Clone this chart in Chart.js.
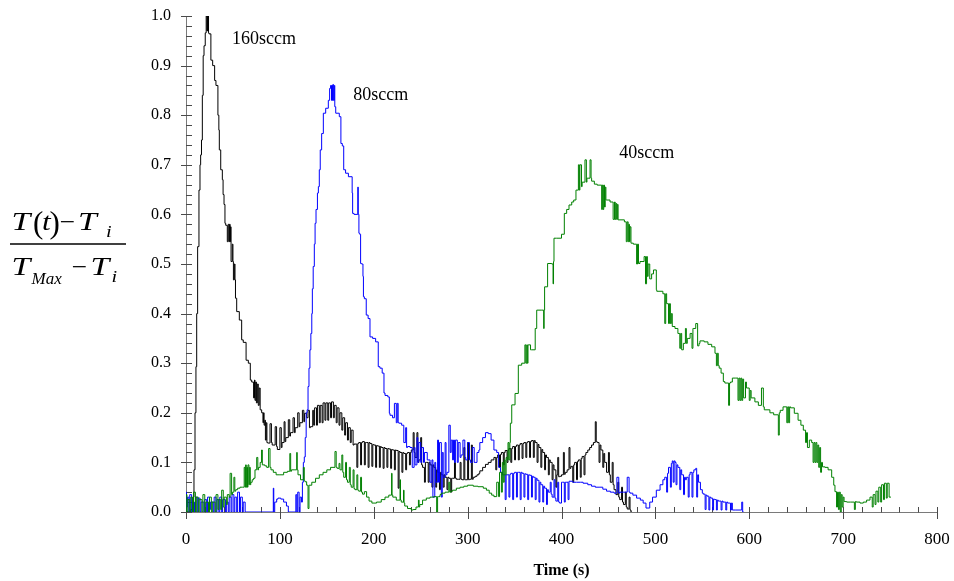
<!DOCTYPE html>
<html>
<head>
<meta charset="utf-8">
<script src="https://cdn.jsdelivr.net/npm/chart.js@4/dist/chart.umd.min.js"></script>
<style>
  html, body { margin: 0; padding: 0; background: #ffffff; }
  #plot { display: block; }
</style>
</head>
<body>
<canvas id="plot" width="954" height="581"></canvas>
<script>
// Normalised temperature rise (T(t) - Ti) / (TMax - Ti) against time, one trace per flow rate.
// Each entry is [time in s, normalised value].
const flow160 = [
  [0,0],[5,0],[7.5,0.005],[8.5,0.03],[9.6,0.085],[10.6,0.2],[11.4,0.293],[12.4,0.4],[13.8,0.535],[14.9,0.649],
  [15.6,0.7],[16.5,0.72],[17.4,0.75],[18.3,0.84],[19.2,0.92],[20.5,0.94],[21.5,0.966],[22.3,1.0],[22.8,0.97],[23.2,1.0],
  [23.6,0.97],[24,1.0],[24.5,0.966],[26.5,0.964],[28.4,0.911],[30.5,0.9],[31.9,0.87],[34,0.86],[35,0.8],[35.5,0.77],
  [37,0.73],[38.7,0.69],[39.5,0.67],[40.5,0.64],[41.5,0.62],[42.3,0.582],[44,0.578],[45,0.545],[46,0.58],[46.5,0.545],
  [47,0.58],[47.5,0.545],[48,0.575],[49.3,0.505],[50,0.54],[50.5,0.505],[51.5,0.468],[52.2,0.5],[52.7,0.468],[54,0.431],
  [56.8,0.404],[59.3,0.387],[61,0.347],[64,0.342],[66.4,0.306],[68.5,0.3],[70,0.266],[72,0.262],[73,0.23],[73.5,0.266],
  [74.3,0.225],[75,0.262],[76,0.22],[77,0.258],[78,0.215],[79,0.25],[80.6,0.206],[82,0.2],[82.5,0.18],[83.2,0.2],
  [84,0.175],[84.6,0.185],[85.5,0.145],[86.2,0.18],[87,0.14],[89.5,0.139],[91,0.178],[91.8,0.14],[95,0.135],[96.5,0.172],
  [97.3,0.132],[100,0.126],[101.5,0.17],[102.3,0.13],[104.5,0.14],[105.5,0.182],[106.3,0.142],[109,0.15],[110.5,0.186],[111.3,0.153],
  [114,0.16],[115.5,0.19],[116.3,0.16],[119,0.17],[120.5,0.2],[121.3,0.172],[124,0.18],[125.5,0.205],[126.3,0.182],[128.5,0.199],
  [130,0.19],[131.5,0.205],[132.5,0.17],[135,0.172],[136,0.205],[137,0.175],[139,0.21],[140,0.175],[142,0.215],[143,0.18],
  [145,0.215],[146,0.18],[148,0.22],[149,0.185],[151,0.22],[152,0.185],[154,0.22],[155,0.19],[157,0.222],[158,0.19],
  [160,0.215],[161,0.18],[163,0.21],[164,0.175],[166,0.2],[167,0.165],[169,0.19],[170,0.155],[172,0.18],[173,0.145],
  [175,0.17],[176,0.14],[178,0.165],[179,0.135],[182,0.137],[183,0.09],[184,0.138],[186,0.14],[187,0.095],[188,0.14],
  [190,0.142],[191,0.095],[192,0.14],[194,0.14],[195,0.09],[196,0.14],[198,0.138],[199,0.092],[200,0.136],[202,0.135],
  [203,0.09],[204,0.134],[206,0.133],[207,0.09],[208,0.132],[210,0.13],[211,0.088],[212,0.13],[214,0.128],[215,0.09],
  [216,0.128],[218,0.127],[219,0.088],[220,0.126],[222,0.125],[223,0.085],[224,0.125],[226,0.124],[227,0.048],[228,0.122],
  [230,0.12],[231,0.08],[232,0.12],[234,0.118],[235,0.085],[236,0.118],[238,0.12],[239,0.095],[240,0.12],[242,0.125],
  [243,0.16],[244,0.12],[246,0.11],[247,0.16],[248,0.1],[250,0.105],[251,0.15],[252,0.095],[254,0.09],[255,0.06],
  [256,0.1],[258,0.1],[259,0.06],[260,0.1],[262,0.095],[263,0.05],[264,0.095],[266,0.09],[267,0.05],[268,0.085],
  [270,0.08],[271,0.045],[272,0.08],[274,0.075],[275,0.05],[276,0.075],[278,0.07],[279,0.045],[280,0.07],[282,0.068],
  [283,0.04],[284,0.068],[286,0.068],[287,0.1],[288,0.068],[290,0.066],[292,0.066],[293,0.1],[294,0.066],[296,0.065],
  [297,0.13],[298,0.065],[300,0.065],[301,0.14],[302,0.065],[304,0.066],[305,0.135],[306,0.066],[308,0.07],[310,0.072],
  [312,0.075],[313,0.078],[316,0.083],[319,0.09],[322,0.096],[325,0.1],[328,0.105],[330,0.11],[331,0.085],[332,0.11],
  [334,0.115],[335,0.09],[336,0.116],[338,0.12],[339,0.095],[340,0.12],[342,0.124],[343,0.1],[344,0.125],[346,0.128],
  [347,0.1],[348,0.128],[350,0.132],[351,0.105],[352,0.132],[354,0.135],[355,0.105],[356,0.135],[358,0.138],[359,0.108],
  [360,0.138],[362,0.14],[363,0.11],[364,0.14],[366,0.142],[367,0.11],[368,0.142],[370,0.144],[371,0.11],[372,0.144],
  [374,0.14],[375,0.1],[376,0.136],[378,0.13],[379,0.09],[380,0.126],[382,0.12],[383,0.085],[384,0.115],[386,0.11],
  [387,0.075],[388,0.105],[390,0.1],[391,0.065],[392,0.095],[394,0.085],[395,0.05],[396,0.075],[397,0.11],[398,0.071],
  [400,0.072],[402,0.075],[403,0.12],[404,0.076],[406,0.08],[408,0.085],[409,0.13],[410,0.088],[412,0.092],[413,0.06],
  [414,0.095],[416,0.1],[417,0.065],[418,0.102],[420,0.105],[421,0.07],[422,0.108],[424,0.112],[425,0.075],[426,0.115],
  [428,0.12],[430,0.125],[432,0.13],[434,0.135],[436,0.14],[437,0.182],[438,0.142],[440,0.14],[441,0.1],[442,0.135],
  [444,0.125],[445,0.09],[446,0.118],[448,0.1],[450,0.08],[451,0.12],[452,0.075],[454,0.06],[455,0.1],[456,0.055],
  [458,0.045],[460,0.035],[461,0.06],[462,0.03],[464,0.025],[465,0.05],[466,0.02],[468,0.015],[469,0.04],[470,0.01],
  [472,0.006],[473,0.03],[474,0.004],[475,0]
];

const flow80 = [
  [0,0],[0.5,0.04],[1.5,0.01],[3,0.03],[4,0],[6,0.035],[7,0],[9,0.02],[10,0],[12,0.03],
  [13,0],[15,0.028],[16,0],[19,0.02],[20,0],[22,0.025],[23,0],[25,0.03],[26,0.005],[29,0.02],
  [30,0],[32,0.03],[33,0],[35,0.025],[36,0],[38,0.03],[39,0],[42,0.025],[43,0],[45,0.02],
  [46,0],[48,0.03],[49,0],[51,0.035],[52,0],[54,0.03],[55,0],[57,0.04],[58,0],[60,0.03],
  [61,0],[63,0.02],[64,0],[93,0],[93.5,0.048],[94.5,0],[96.6,0.02],[98,0.026],[101,0.028],[104,0.026],
  [107,0.02],[109,0.012],[110.8,0],[117,0],[118,0.035],[119,0],[120.5,0.04],[121.5,0],[123,0.03],[124,0.02],
  [125,0.06],[126,0.1],[127,0.111],[128,0.15],[129,0.2],[130,0.206],[131,0.253],[132,0.29],[133,0.327],[134,0.36],
  [134.6,0.4],[135.5,0.45],[136.7,0.495],[137.5,0.54],[138.5,0.582],[140,0.61],[141,0.643],[142,0.656],[143,0.69],[144.5,0.73],
  [146.3,0.763],[148.8,0.804],[151.6,0.814],[153,0.83],[154,0.854],[155,0.86],[155.5,0.83],[156,0.86],[156.5,0.83],[157,0.862],
  [158,0.83],[158.5,0.86],[159.5,0.817],[163.3,0.804],[165,0.797],[166.5,0.743],[168,0.738],[170,0.69],[173,0.683],[177,0.676],
  [177.5,0.643],[179,0.602],[183,0.6],[183.5,0.655],[184.2,0.6],[185,0.562],[186,0.56],[187,0.501],[188.5,0.5],[189,0.475],
  [190,0.434],[192,0.43],[194,0.397],[196,0.39],[198.8,0.353],[202,0.35],[204.8,0.343],[206.6,0.293],[209,0.29],[210.9,0.28],
  [212,0.24],[215,0.235],[216.6,0.232],[217.3,0.199],[220,0.195],[222,0.19],[224,0.219],[225,0.18],[226,0.219],[227,0.18],
  [229.7,0.179],[232,0.175],[234,0.14],[235,0.17],[236,0.13],[238.6,0.132],[241,0.13],[243,0.09],[244,0.13],[246,0.095],
  [247,0.15],[248,0.1],[250,0.14],[251,0.1],[253,0.13],[254,0.1],[257,0.12],[260,0.105],[262,0.06],[263,0.105],
  [265,0.03],[266,0.1],[268,0.06],[269,0.145],[270,0.06],[272,0.14],[273,0.03],[274,0.12],[276,0.07],[277,0.14],
  [278,0.075],[280,0.08],[281.5,0.175],[282.5,0.12],[284,0.145],[285,0.105],[286,0.145],[287,0.1],[289,0.145],[290,0.1],
  [292,0.14],[293,0.11],[295,0.115],[297,0.145],[298,0.11],[300,0.105],[302,0.14],[303,0.105],[305,0.1],[307,0.13],
  [308,0.1],[310,0.1],[312,0.12],[313,0.125],[316,0.14],[319,0.15],[322,0.16],[325,0.158],[328,0.145],[331,0.125],
  [333,0.12],[335,0.09],[337,0.08],[338,0.075],[340,0.075],[341,0.025],[342,0.075],[344,0.075],[345,0.03],[346,0.076],
  [348,0.078],[349,0.025],[350,0.078],[352,0.08],[353,0.03],[354,0.08],[356,0.08],[357,0.025],[358,0.08],[360,0.078],
  [361,0.03],[362,0.077],[364,0.076],[365,0.025],[366,0.075],[368,0.074],[369,0.03],[370,0.072],[372,0.07],[373,0.025],
  [374,0.068],[376,0.064],[377,0.02],[378,0.06],[380,0.055],[381,0.02],[382,0.052],[384,0.048],[385,0.015],[386,0.045],
  [388,0.04],[389,0.06],[390,0.036],[392,0.03],[393,0.065],[394,0.028],[396,0.022],[397,0.06],[398,0.02],[400,0.018],
  [401,0.06],[403,0.06],[404,0.02],[405,0.06],[407,0.06],[408,0.025],[409,0.062],[412,0.062],[416,0.06],[420,0.06],
  [423,0.06],[428,0.058],[432,0.055],[436,0.052],[440,0.05],[444,0.05],[448,0.046],[452,0.042],[456,0.04],[459,0.038],
  [461,0.07],[462,0.038],[466,0.04],[470,0.04],[472,0.07],[473,0.04],[476,0.038],[480,0.034],[484,0.028],[487,0.024],
  [490,0.018],[494,0.008],[497,0.02],[501,0.03],[505,0.044],[508,0.055],[510,0.065],[512,0.07],[513,0.04],[514,0.078],
  [516,0.09],[517,0.05],[518,0.098],[519,0.103],[520,0.06],[521,0.103],[522,0.1],[523,0.055],[524,0.095],[526,0.09],
  [527,0.045],[528,0.085],[530,0.075],[531,0.035],[532,0.07],[533,0.065],[535,0.07],[536,0.03],[537,0.075],[539,0.08],
  [540,0.03],[541,0.08],[543,0.085],[544,0.088],[545,0.03],[546,0.075],[548,0.06],[550,0.045],[551,0.038],[553,0.036],
  [554,0.005],[555,0.034],[557,0.032],[558,0.004],[559,0.03],[561,0.028],[562,0.004],[563,0.026],[565,0.025],[566,0.004],
  [567,0.024],[570,0.022],[571,0.004],[572,0.022],[575,0.02],[576,0.004],[577,0.02],[580,0.018],[581,0.004],[582,0.018],
  [585,0.004],[592,0.004],[593,0.02],[594,0]
];

const flow40 = [
  [0,0],[1,0.035],[2,0],[4,0.025],[5,0],[7,0.03],[8,0],[10,0.04],[11,0],[13,0.03],
  [14,0],[17,0.025],[18,0],[20,0.035],[21,0],[24,0.02],[25,0],[27,0.03],[28,0],[31,0.02],
  [32,0],[34,0.035],[35,0.005],[37,0.025],[38,0.005],[39.7,0.044],[40.7,0.01],[43,0.03],[44,0.015],[46,0.035],
  [47,0.03],[48.6,0.078],[49.5,0.035],[51,0.04],[52,0.07],[53,0.042],[55,0.045],[57.5,0.048],[60,0.05],[62,0.05],
  [63,0.09],[63.5,0.05],[64.2,0.095],[64.8,0.05],[65.5,0.09],[66,0.05],[67,0.095],[67.5,0.055],[68.5,0.09],[69,0.055],
  [70.5,0.06],[72,0.065],[73.5,0.068],[75.3,0.085],[76.5,0.11],[77.3,0.085],[79,0.09],[80.5,0.1],[81.3,0.125],[82,0.095],
  [84,0.095],[86,0.093],[88,0.09],[89.5,0.128],[90.5,0.09],[93,0.085],[96,0.08],[100,0.075],[104,0.075],[108,0.08],
  [110.6,0.082],[111.5,0.118],[112.3,0.082],[116,0.085],[117.9,0.085],[118.5,0.12],[119.3,0.085],[122,0.075],[125,0.065],[126,0.09],
  [126.8,0.063],[128.5,0.061],[130,0.054],[131,0.007],[132,0.054],[134,0.054],[138,0.06],[142,0.068],[146,0.075],[150,0.08],
  [154,0.085],[158.7,0.09],[160,0.122],[161,0.09],[163,0.088],[164,0.098],[166,0.085],[167,0.115],[168,0.08],[170,0.07],
  [171,0.1],[172,0.065],[174,0.06],[175,0.09],[176,0.055],[178,0.05],[179,0.085],[180,0.047],[182,0.045],[183,0.075],
  [184,0.044],[186,0.042],[187,0.07],[188,0.04],[190,0.036],[192.4,0.041],[195,0.03],[198,0.022],[203,0.018],[208,0.02],
  [212,0.025],[216,0.03],[219,0.034],[219.5,0.078],[220.3,0.034],[224,0.03],[228,0.024],[228.5,0.065],[229.3,0.024],[231.7,0.02],
  [232.3,0.044],[233,0.018],[236,0.012],[240,0.007],[242,0.004],[245,0.005],[247.6,0.01],[248.3,0.024],[249,0.01],[252,0.015],
  [256,0.024],[260,0.028],[264,0.03],[267,0.031],[268,0.0],[269,0.031],[270.6,0.031],[272,0.035],[276,0.038],[280,0.04],
  [281,0.06],[282,0.04],[284,0.042],[288,0.044],[292,0.048],[296,0.05],[300,0.052],[306,0.054],[311,0.052],[316.7,0.051],
  [320,0.048],[323,0.044],[325.6,0.038],[328,0.034],[331,0.031],[333,0.06],[334,0.031],[336,0.08],[337,0.04],[338,0.1],
  [339,0.06],[340,0.105],[341,0.075],[342,0.11],[343,0.105],[344,0.14],[345,0.105],[345.5,0.14],[347,0.179],[350.5,0.216],
  [354,0.239],[357.6,0.296],[361,0.3],[362,0.337],[363,0.3],[363.6,0.337],[364.3,0.3],[365,0.337],[367,0.337],[368,0.327],
  [372,0.327],[373.6,0.37],[379,0.407],[381,0.407],[381.5,0.37],[382,0.407],[385.2,0.454],[389.6,0.501],[391,0.5],[391.5,0.46],
  [392,0.505],[394.9,0.552],[400,0.552],[403,0.56],[405.5,0.602],[408,0.61],[410.9,0.619],[413,0.625],[415.4,0.629],[418,0.649],
  [419,0.7],[419.6,0.649],[421.3,0.7],[422,0.656],[425,0.665],[426.5,0.71],[427.1,0.665],[428,0.673],[430.4,0.673],[431.5,0.71],
  [432.1,0.673],[435,0.667],[438,0.661],[442.8,0.659],[443.5,0.61],[444.3,0.659],[445,0.61],[445.8,0.659],[446.6,0.615],[447.3,0.655],
  [448,0.629],[451.7,0.629],[455,0.625],[456.5,0.59],[457.2,0.625],[458,0.59],[458.8,0.622],[459.5,0.59],[460.3,0.62],[462.3,0.589],
  [467,0.589],[469,0.585],[470,0.545],[471,0.585],[471.7,0.545],[472.4,0.58],[473,0.545],[474,0.575],[476.5,0.542],[480,0.54],
  [481,0.5],[482,0.54],[483.6,0.501],[488,0.505],[489.5,0.515],[490.6,0.46],[491.5,0.515],[492.3,0.475],[494,0.5],[496,0.47],
  [498,0.48],[501,0.488],[501.5,0.448],[508,0.445],[510,0.44],[511,0.38],[512,0.44],[514,0.42],[515,0.38],[516,0.42],
  [517,0.38],[518,0.4],[520.9,0.374],[524,0.37],[526,0.36],[527,0.33],[528,0.36],[529.8,0.327],[532,0.34],[533,0.37],
  [534,0.34],[537,0.35],[539,0.36],[540,0.33],[541,0.37],[543,0.37],[545,0.38],[546.5,0.335],[547.5,0.34],[552,0.345],
  [556,0.343],[560,0.338],[563.5,0.333],[565,0.32],[566,0.295],[567,0.32],[568,0.295],[570,0.29],[572.4,0.28],[574,0.263],
  [578,0.26],[579,0.215],[580,0.26],[582,0.262],[585,0.27],[588,0.27],[589,0.225],[590,0.27],[591,0.225],[592,0.27],
  [593,0.225],[594,0.268],[596,0.23],[597,0.262],[600,0.25],[601,0.225],[602,0.245],[606,0.23],[609.7,0.222],[613,0.215],
  [615,0.25],[616,0.212],[622,0.206],[626,0.2],[631,0.196],[632,0.155],[633,0.2],[636,0.205],[640,0.212],[641,0.18],
  [642,0.212],[643,0.18],[644,0.212],[648,0.21],[652,0.199],[655,0.185],[657.6,0.175],[660,0.165],[661,0.14],[662,0.16],
  [664,0.13],[666.5,0.145],[668,0.14],[669,0.1],[670,0.14],[671,0.1],[672,0.14],[673,0.1],[674,0.135],[675,0.09],
  [676,0.13],[677,0.08],[678,0.1],[680.7,0.091],[684,0.09],[687.8,0.085],[690,0.07],[691.3,0.054],[693,0.041],[694,0.01],
  [695,0.04],[696,0.005],[697,0.04],[698,0],[699,0.035],[700,0.01],[701,0.03],[703.8,0.021],[708,0.02],[712,0.02],
  [713,0.005],[714,0.021],[718,0.02],[721.5,0.018],[725,0.02],[728.6,0.024],[731,0.03],[732,0.01],[734,0.035],[735,0.015],
  [737,0.042],[738,0.02],[740,0.05],[741,0.02],[743,0.055],[744,0.025],[746,0.058],[747,0.028],[749,0.058],[750,0.03],
  [751,0.03]
];

const seriesNames = ['160sccm', '80sccm', '40sccm'];
const timeRange = [0, 800];
const ratioRange = [0, 1];

const SERIF = "'Liberation Serif', 'Times New Roman', serif";

const toPoints = rows => rows.map(([t, v]) => ({ x: t, y: v }));

// Axis lines with outward major ticks and inward minor ticks.
const axisTicks = {
  id: 'axisTicks',
  beforeDatasetsDraw(chart) {
    const { ctx, chartArea: a, scales: { x, y } } = chart;
    ctx.save();
    ctx.lineWidth = 1;
    ctx.strokeStyle = '#7a7a7a';
    ctx.beginPath();
    ctx.moveTo(a.left + 0.5, a.top);
    ctx.lineTo(a.left + 0.5, a.bottom + 0.5);
    ctx.moveTo(a.left, a.bottom + 0.5);
    ctx.lineTo(a.right + 1, a.bottom + 0.5);
    ctx.stroke();

    ctx.strokeStyle = '#4a4a4a';
    ctx.beginPath();
    for (let v = timeRange[0]; v <= timeRange[1]; v += 20) {
      const px = Math.round(x.getPixelForValue(v)) + 0.5;
      const major = v % 100 === 0;
      ctx.moveTo(px, a.bottom - 5);
      ctx.lineTo(px, a.bottom + (major ? 7 : 0.5));
    }
    for (let i = 0; i <= 50; i++) {
      const py = Math.round(y.getPixelForValue(i / 50)) + 0.5;
      const major = i % 5 === 0;
      ctx.moveTo(a.left - (major ? 5 : 0), py);
      ctx.lineTo(a.left + 6, py);
    }
    ctx.stroke();
    ctx.restore();
  }
};

// Flow-rate captions placed beside each peak, in data coordinates.
const peakCaptions = {
  id: 'peakCaptions',
  afterDatasetsDraw(chart) {
    const { ctx, scales: { x, y } } = chart;
    const anchors = [[49, 0.944], [178.2, 0.831], [461.6, 0.713]];
    ctx.save();
    ctx.fillStyle = '#000';
    ctx.font = '18px ' + SERIF;
    ctx.textAlign = 'left';
    ctx.textBaseline = 'alphabetic';
    anchors.forEach(([t, v], i) => {
      ctx.fillText(seriesNames[i], x.getPixelForValue(t), y.getPixelForValue(v));
    });
    ctx.restore();
  }
};

// Y-axis quantity written as a stacked fraction.
const ratioTitle = {
  id: 'ratioTitle',
  afterDraw(chart) {
    const { ctx } = chart;
    const pieces = [
      ['T', 11.5, 230, 'italic 25px', 1.35],
      ['(', 33, 233, '31px', 1],
      ['t', 42, 230, 'italic 25px', 1.25],
      [')', 49.5, 233, '31px', 1],
      ['\u2212', 59.5, 230, '25px', 1.1],
      ['T', 78, 230, 'italic 25px', 1.35],
      ['i', 106, 237, 'italic 17px', 1.2],
      ['T', 11.5, 275, 'italic 25px', 1.35],
      ['Max', 31.5, 284, 'italic 17px', 1.0],
      ['\u2212', 71.5, 275, '25px', 1.1],
      ['T', 90.5, 275, 'italic 25px', 1.35],
      ['i', 111.5, 282, 'italic 17px', 1.2]
    ];
    ctx.save();
    ctx.fillStyle = '#000';
    ctx.textAlign = 'left';
    ctx.textBaseline = 'alphabetic';
    pieces.forEach(([s, px, py, f, sx]) => {
      ctx.save();
      ctx.translate(px, py);
      ctx.scale(sx, 1);
      ctx.font = f + ' ' + SERIF;
      ctx.fillText(s, 0, 0);
      ctx.restore();
    });
    ctx.strokeStyle = '#000';
    ctx.lineWidth = 1.6;
    ctx.beginPath();
    ctx.moveTo(10, 244);
    ctx.lineTo(126, 244);
    ctx.stroke();
    ctx.restore();
  }
};

const lineStyle = (color) => ({
  borderColor: color,
  backgroundColor: color,
  borderWidth: 1,
  pointRadius: 0,
  fill: false,
  stepped: 'after',
  tension: 0
});

new Chart(document.getElementById('plot'), {
  type: 'line',
  data: {
    datasets: [
      { label: seriesNames[2], data: toPoints(flow40), ...lineStyle('#008000') },
      { label: seriesNames[1], data: toPoints(flow80), ...lineStyle('#0000ff') },
      { label: seriesNames[0], data: toPoints(flow160), ...lineStyle('#000000') }
    ]
  },
  options: {
    responsive: false,
    animation: false,
    devicePixelRatio: 1,
    layout: { padding: { top: 16, right: 17, bottom: 0, left: 0 } },
    plugins: { legend: { display: false }, tooltip: { enabled: false } },
    scales: {
      x: {
        type: 'linear',
        min: timeRange[0],
        max: timeRange[1],
        grid: { display: false, drawTicks: false },
        border: { display: false },
        ticks: {
          stepSize: 100,
          maxRotation: 0,
          autoSkip: false,
          padding: 17,
          color: '#000',
          font: { family: SERIF, size: 17 }
        },
        title: {
          display: true,
          text: 'Time (s)',
          color: '#000',
          font: { family: SERIF, size: 16, weight: 'bold' },
          padding: { top: 0, bottom: 1 }
        },
        afterFit(scale) {
          scale.height = 69;
          scale.paddingLeft = 0;
          scale.paddingRight = 0;
        }
      },
      y: {
        type: 'linear',
        min: ratioRange[0],
        max: ratioRange[1],
        grid: { display: false, drawTicks: false },
        border: { display: false },
        ticks: {
          stepSize: 0.1,
          padding: 15,
          color: '#000',
          font: { family: SERIF, size: 16 },
          callback: v => Number(v).toFixed(1)
        },
        afterFit(scale) {
          scale.width = 186;
          scale.paddingTop = 0;
          scale.paddingBottom = 0;
        }
      }
    }
  },
  plugins: [axisTicks, peakCaptions, ratioTitle]
});
</script>
</body>
</html>
